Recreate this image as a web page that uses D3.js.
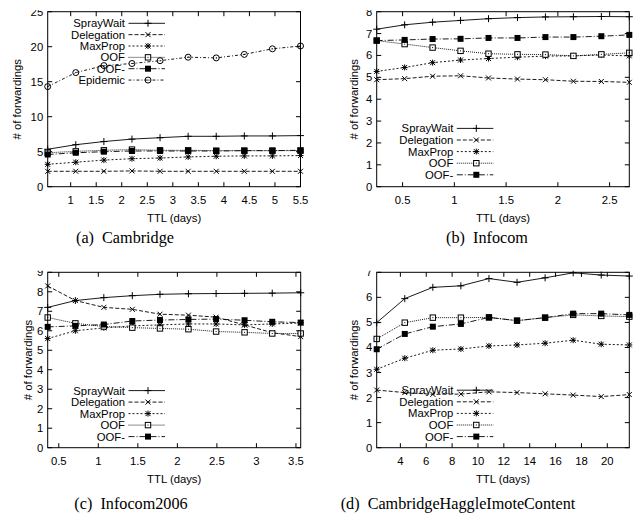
<!DOCTYPE html>
<html>
<head>
<meta charset="utf-8">
<script src="https://cdnjs.cloudflare.com/ajax/libs/d3/7.8.5/d3.min.js"></script>
<style>
  body { margin: 0; background: #fff; }
  svg text { font-family: "Liberation Sans", Arial, sans-serif; fill: #000; }
  svg text.caption { font-family: "Liberation Serif", "Times New Roman", serif; }
</style>
</head>
<body>
<div id="chart"></div>
<script>
// series names, in legend order
const seriesNames = ["SprayWait", "Delegation", "MaxProp", "OOF", "OOF-", "Epidemic"];

// (a) Cambridge
const ttlA = [0.55, 1.1, 1.65, 2.2, 2.75, 3.3, 3.85, 4.4, 4.95, 5.5];
const aSprayWait = [5.35, 6.0, 6.45, 6.8, 7.0, 7.2, 7.2, 7.25, 7.25, 7.3];
const aDelegation = [2.2, 2.2, 2.2, 2.25, 2.2, 2.2, 2.2, 2.2, 2.2, 2.2];
const aMaxProp = [3.2, 3.5, 3.8, 4.0, 4.1, 4.25, 4.35, 4.4, 4.4, 4.45];
const aOOF = [4.85, 5.05, 5.2, 5.3, 5.2, 5.2, 5.15, 5.15, 5.15, 5.15];
const aOOFm = [4.6, 4.85, 5.0, 5.1, 5.1, 5.1, 5.1, 5.15, 5.15, 5.2];
const aEpidemic = [14.3, 16.3, 17.3, 17.6, 18.0, 18.5, 18.4, 18.9, 19.7, 20.1];
const aXTicks = [1, 1.5, 2, 2.5, 3, 3.5, 4, 4.5, 5, 5.5];
const aYTicks = [0, 5, 10, 15, 20, 25];

// (b) Infocom
const ttlB = [0.25, 0.52, 0.79, 1.06, 1.33, 1.61, 1.88, 2.15, 2.42, 2.69];
const bSprayWait = [7.2, 7.4, 7.52, 7.6, 7.68, 7.73, 7.76, 7.77, 7.78, 7.77];
const bDelegation = [4.89, 4.94, 5.05, 5.07, 4.97, 4.92, 4.89, 4.82, 4.81, 4.77];
const bMaxProp = [5.27, 5.45, 5.67, 5.79, 5.86, 5.92, 5.97, 5.98, 6.02, 5.98];
const bOOF = [6.68, 6.52, 6.36, 6.21, 6.08, 6.05, 6.04, 5.98, 6.05, 6.12];
const bOOFm = [6.68, 6.71, 6.75, 6.76, 6.8, 6.8, 6.84, 6.84, 6.88, 6.94];
const bXTicks = [0.5, 1, 1.5, 2, 2.5];
const bYTicks = [0, 1, 2, 3, 4, 5, 6, 7, 8];

// (c) Infocom2006
const ttlC = [0.36, 0.71, 1.07, 1.43, 1.78, 2.14, 2.49, 2.85, 3.2, 3.56];
const cSprayWait = [7.2, 7.55, 7.7, 7.8, 7.87, 7.9, 7.91, 7.92, 7.93, 7.95];
const cDelegation = [8.3, 7.55, 7.2, 7.1, 6.85, 6.8, 6.7, 6.3, 5.9, 5.7];
const cMaxProp = [5.6, 6.0, 6.15, 6.25, 6.3, 6.35, 6.35, 6.3, 6.35, 6.4];
const cOOF = [6.68, 6.38, 6.22, 6.16, 6.12, 6.08, 5.96, 5.92, 5.86, 5.86];
const cOOFm = [6.2, 6.25, 6.32, 6.5, 6.55, 6.58, 6.6, 6.54, 6.46, 6.42];
const cXTicks = [0.5, 1, 1.5, 2, 2.5, 3, 3.5];
const cYTicks = [0, 1, 2, 3, 4, 5, 6, 7, 8, 9];

// (d) CambridgeHaggleImoteContent
const ttlD = [2.17, 4.34, 6.51, 8.68, 10.85, 13.02, 15.19, 17.36, 19.53, 21.7];
const dSprayWait = [4.99, 5.95, 6.4, 6.46, 6.75, 6.6, 6.78, 6.98, 6.89, 6.85];
const dDelegation = [2.3, 2.2, 2.13, 2.14, 2.23, 2.2, 2.15, 2.1, 2.04, 2.12];
const dMaxProp = [3.13, 3.57, 3.89, 3.94, 4.06, 4.1, 4.17, 4.29, 4.13, 4.1];
const dOOF = [4.34, 4.99, 5.19, 5.19, 5.2, 5.07, 5.19, 5.3, 5.26, 5.23];
const dOOFm = [3.93, 4.54, 4.83, 4.94, 5.2, 5.07, 5.19, 5.35, 5.35, 5.3];
const dXTicks = [4, 6, 8, 10, 12, 14, 16, 18, 20];
const dYTicks = [0, 1, 2, 3, 4, 5, 6, 7];

const captions = ["(a)  Cambridge", "(b)  Infocom", "(c)  Infocom2006", "(d)  CambridgeHaggleImoteContent"];

// line style per series (gnuplot mono look)
const styles = {
    "SprayWait":  { dash: null,        mark: "plus" },
    "Delegation": { dash: "4,2",       mark: "cross" },
    "MaxProp":    { dash: "2,2",       mark: "star" },
    "OOF":        { dash: "1,1",       mark: "box" },
    "OOF-":       { dash: "6,2,1,2",   mark: "fbox" },
    "Epidemic":   { dash: "3,2,1,2",   mark: "circle" }
};

const panels = [
    { x: ttlA, ys: [aSprayWait, aDelegation, aMaxProp, aOOF, aOOFm, aEpidemic], xt: aXTicks, yt: aYTicks,
      box: [47.7, 11.7, 300.5, 186.7], leg: [125, 23.3, 11.35], ylab: 21, cap: [125, 243] },
    { x: ttlB, ys: [bSprayWait, bDelegation, bMaxProp, bOOF, bOOFm], xt: bXTicks, yt: bYTicks,
      box: [376.7, 11.7, 629.3, 186.7], leg: [453.3, 128.4, 11.6], ylab: 358, cap: [487, 243] },
    { x: ttlC, ys: [cSprayWait, cDelegation, cMaxProp, cOOF, cOOFm], xt: cXTicks, yt: cYTicks,
      box: [47.7, 272.3, 300.7, 447.7], leg: [125, 390.6, 11.5], ylab: 32, cap: [131, 509] },
    { x: ttlD, ys: [dSprayWait, dDelegation, dMaxProp, dOOF, dOOFm], xt: dXTicks, yt: dYTicks,
      box: [376.7, 272.3, 629.3, 447.7], leg: [453.3, 390.2, 11.6], ylab: 358, cap: [458, 509] }
];

const svg = d3.select("#chart").append("svg")
    .attr("width", 643)
    .attr("height", 520);

function drawMark(g, type, cx, cy) {
    if (type === "plus") {
        g.append("path").attr("d", `M${cx - 3.5},${cy}H${cx + 3.5}M${cx},${cy - 3.5}V${cy + 3.5}`)
            .attr("stroke", "#000").attr("stroke-width", 1);
    } else if (type === "cross") {
        g.append("path").attr("d", `M${cx - 2.5},${cy - 2.5}L${cx + 2.5},${cy + 2.5}M${cx - 2.5},${cy + 2.5}L${cx + 2.5},${cy - 2.5}`)
            .attr("stroke", "#000").attr("stroke-width", 1);
    } else if (type === "star") {
        g.append("path").attr("d", `M${cx - 3},${cy}H${cx + 3}M${cx},${cy - 3}V${cy + 3}M${cx - 2.5},${cy - 2.5}L${cx + 2.5},${cy + 2.5}M${cx - 2.5},${cy + 2.5}L${cx + 2.5},${cy - 2.5}`)
            .attr("stroke", "#000").attr("stroke-width", 1);
    } else if (type === "box") {
        g.append("rect").attr("x", cx - 2.7).attr("y", cy - 2.7).attr("width", 5.4).attr("height", 5.4)
            .attr("fill", "#fff").attr("stroke", "#000").attr("stroke-width", 1);
        g.append("rect").attr("x", cx - 0.5).attr("y", cy - 0.5).attr("width", 1).attr("height", 1).attr("fill", "#000");
    } else if (type === "fbox") {
        g.append("rect").attr("x", cx - 3).attr("y", cy - 3).attr("width", 6).attr("height", 6).attr("fill", "#000");
    } else if (type === "circle") {
        g.append("circle").attr("cx", cx).attr("cy", cy).attr("r", 3)
            .attr("fill", "none").attr("stroke", "#000").attr("stroke-width", 1);
        g.append("circle").attr("cx", cx).attr("cy", cy).attr("r", 0.6).attr("fill", "#000");
    }
}

panels.forEach(function(p, pi) {
    const [x0, y0, x1, y1] = p.box;
    const clipId = `clip${pi}`;
    // the source figure is trimmed just above the frame, cutting the top tick label
    svg.append("clipPath").attr("id", clipId)
        .append("rect").attr("x", 0).attr("y", y0 - 1.5).attr("width", 643).attr("height", 520);

    const g = svg.append("g").attr("clip-path", `url(#${clipId})`);

    const x = d3.scaleLinear().domain([p.x[0], p.x[p.x.length - 1]]).range([x0, x1]);
    const y = d3.scaleLinear().domain([0, p.yt[p.yt.length - 1]]).range([y1, y0]);

    // ticks on all sides, pointing in
    const tl = 4.5;
    p.xt.forEach(function(t) {
        g.append("line").attr("x1", x(t)).attr("x2", x(t)).attr("y1", y1).attr("y2", y1 - tl)
            .attr("stroke", "#000");
        g.append("line").attr("x1", x(t)).attr("x2", x(t)).attr("y1", y0).attr("y2", y0 + tl)
            .attr("stroke", "#000");
        g.append("text").attr("x", x(t)).attr("y", y1 + 17.5)
            .attr("text-anchor", "middle").attr("font-size", 11.3).text(t);
    });
    p.yt.forEach(function(t) {
        g.append("line").attr("x1", x0).attr("x2", x0 + tl).attr("y1", y(t)).attr("y2", y(t))
            .attr("stroke", "#000");
        g.append("line").attr("x1", x1).attr("x2", x1 - tl).attr("y1", y(t)).attr("y2", y(t))
            .attr("stroke", "#000");
        g.append("text").attr("x", x0 - 4.5).attr("y", y(t) + 4)
            .attr("text-anchor", "end").attr("font-size", 11.3).text(t);
    });

    g.append("text")
        .attr("transform", `translate(${p.ylab},${(y0 + y1) / 2}) rotate(-90)`)
        .attr("text-anchor", "middle").attr("font-size", 11.3)
        .text("# of forwardings");
    g.append("text")
        .attr("x", (x0 + x1) / 2).attr("y", y1 + 35)
        .attr("text-anchor", "middle").attr("font-size", 11.3)
        .text("TTL (days)");

    // series
    p.ys.forEach(function(vals, si) {
        const name = seriesNames[si];
        const st = styles[name];
        const pts = vals.map(function(v, i) { return [p.x[i], v]; });
        g.append("path")
            .datum(pts)
            .attr("fill", "none")
            .attr("stroke", "#000")
            .attr("stroke-width", 0.9)
            .attr("stroke-dasharray", st.dash)
            .attr("d", d3.line().x(function(d) { return x(d[0]); }).y(function(d) { return y(d[1]); }));
        pts.forEach(function(d) { drawMark(g, st.mark, x(d[0]), y(d[1])); });

        // legend entry
        const [lx, ly, ls] = p.leg;
        const ry = ly + si * ls;
        g.append("text").attr("x", lx).attr("y", ry + 4)
            .attr("text-anchor", "end").attr("font-size", 11.3).text(name);
        g.append("line").attr("x1", lx + 3.5).attr("x2", lx + 40).attr("y1", ry).attr("y2", ry)
            .attr("stroke", "#000").attr("stroke-width", 0.9).attr("stroke-dasharray", st.dash);
        drawMark(g, st.mark, lx + 23, ry);
    });

    g.append("rect")
        .attr("x", x0).attr("y", y0).attr("width", x1 - x0).attr("height", y1 - y0)
        .attr("fill", "none").attr("stroke", "#000").attr("stroke-width", 1);

    svg.append("text").attr("class", "caption")
        .attr("x", p.cap[0]).attr("y", p.cap[1])
        .attr("text-anchor", "middle").attr("font-size", 16.2)
        .attr("xml:space", "preserve")
        .style("white-space", "pre")
        .text(captions[pi]);
});
</script>
</body>
</html>
